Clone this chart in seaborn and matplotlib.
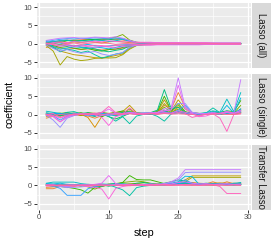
import numpy as np
import pandas as pd
import matplotlib
matplotlib.use("Agg")
import matplotlib.pyplot as plt
from matplotlib.patches import Rectangle
import seaborn as sns

steps = list(range(1, 30))
panels = ["Lasso (all)", "Lasso (single)", "Transfer Lasso"]
variables = ["x%d" % i for i in range(1, 21)]

# Lasso (all)
a1 = [0.3, 0.5, 0.8, 1.0, 0.9, 1.1, 1.2, 1.0, 1.1, 1.3, 1.2, 1.0, 0.6, 0.4, 0.3, 0.3, 0.2, 0.2, 0.2, 0.2, 0.2, 0.2, 0.1, 0.1, 0.1, 0.1, 0.1, 0.1, 0.1]
a2 = [-0.5, -0.8, -1.2, -1.5, -1.3, -1.6, -1.4, -1.5, -1.7, -1.6, -1.5, -1.2, -0.8, -0.5, -0.3, -0.3, -0.2, -0.2, -0.2, -0.2, -0.1, -0.1, -0.1, -0.1, -0.1, -0.1, -0.1, -0.1, -0.1]
a3 = [-1.0, -0.6, -0.3, 0.2, 0.5, 0.3, 0.6, 0.4, 0.2, 0.5, 0.7, 0.5, 0.3, 0.2, 0.1, 0.1, 0.1, 0.1, 0.0, 0.0, 0.0, 0.0, 0.0, 0.0, 0.0, 0.0, 0.0, 0.0, 0.0]
a4 = [-0.3, -1.0, -2.0, -2.5, -3.0, -3.2, -3.5, -3.8, -4.0, -3.6, -3.2, -2.8, -1.2, -0.4, -0.2, -0.2, -0.2, -0.1, -0.1, -0.1, -0.1, -0.1, -0.1, -0.1, -0.1, 0.0, 0.0, 0.0, 0.0]
a5 = [-0.5, -2.0, -5.8, -3.5, -4.2, -4.6, -4.4, -4.0, -3.8, -3.9, -3.8, -3.0, -1.5, -0.5, -0.3, -0.2, -0.2, -0.2, -0.1, -0.1, -0.1, -0.1, -0.1, -0.1, -0.1, -0.1, -0.1, -0.1, -0.1]
a6 = [0.2, 0.5, 0.3, 0.8, 1.0, 0.9, 1.1, 1.2, 1.3, 1.5, 1.8, 2.5, 1.0, 0.4, 0.2, 0.2, 0.1, 0.1, 0.1, 0.1, 0.1, 0.1, 0.1, 0.1, 0.1, 0.1, 0.1, 0.1, 0.1]
a7 = [-0.2, -0.5, -1.0, -0.8, -1.2, -1.5, -1.3, -1.8, -2.0, -1.6, -1.4, -1.0, -0.5, -0.2, -0.1, -0.1, -0.1, -0.1, -0.1, -0.1, -0.1, 0.0, 0.0, 0.0, 0.0, 0.0, 0.0, 0.0, 0.0]
a8 = [0.0, 0.3, 0.6, 0.9, 0.7, 0.8, 1.0, 1.2, 1.0, 1.1, 1.3, 1.4, 0.8, 0.3, 0.2, 0.2, 0.1, 0.1, 0.1, 0.1, 0.1, 0.1, 0.1, 0.1, 0.0, 0.0, 0.0, 0.0, 0.0]
a9 = [0.4, 0.2, -0.3, -0.6, -0.4, -0.9, -1.1, -1.4, -1.9, -2.2, -1.8, -1.5, -0.6, -0.2, -0.1, -0.1, -0.1, 0.0, 0.0, 0.0, 0.0, 0.0, 0.0, 0.0, 0.0, 0.0, 0.0, 0.0, 0.0]
a10 = [0.5, -1.0, -2.2, -1.5, -1.8, -2.4, -2.0, -3.0, -3.9, -3.4, -2.8, -2.5, -1.0, -0.3, -0.2, -0.2, -0.1, -0.1, -0.1, -0.1, -0.1, -0.1, -0.1, -0.1, -0.1, -0.1, -0.1, -0.1, -0.1]
a11 = [0.8, 0.5, 0.9, 1.0, 0.6, 0.8, 0.7, 1.0, 0.9, 0.6, 0.8, 1.2, 0.7, 0.3, 0.2, 0.2, 0.2, 0.1, 0.1, 0.1, 0.1, 0.1, 0.1, 0.1, 0.1, 0.1, 0.1, 0.1, 0.1]
a12 = [0.2, -0.8, -1.5, -1.2, -0.8, -1.0, -1.3, -0.9, -1.1, -1.4, -1.0, -0.6, -0.4, -0.1, -0.1, -0.1, 0.0, 0.0, 0.0, 0.0, 0.0, 0.0, 0.0, 0.0, 0.0, 0.0, 0.0, 0.0, 0.0]
a13 = [-0.2, 0.4, 0.2, -0.3, -0.6, -0.4, -0.2, -0.5, -0.8, -0.6, -0.4, -0.3, -0.2, -0.1, 0.0, 0.0, 0.0, 0.0, 0.0, 0.0, 0.0, 0.0, 0.0, 0.0, 0.0, 0.0, 0.0, 0.0, 0.0]
a14 = [0.6, 0.9, 1.2, 1.4, 1.3, 1.5, 1.4, 1.6, 1.5, 1.3, 1.6, 1.4, 0.8, 0.3, 0.2, 0.2, 0.1, 0.1, 0.1, 0.1, 0.1, 0.1, 0.1, 0.1, 0.1, 0.1, 0.1, 0.1, 0.1]
a15 = [-0.4, -1.3, -2.0, -1.6, -2.2, -2.6, -2.4, -2.1, -2.8, -3.2, -2.9, -2.4, -1.0, -0.4, -0.2, -0.2, -0.2, -0.1, -0.1, -0.1, -0.1, -0.1, -0.1, -0.1, -0.1, -0.1, -0.1, -0.1, -0.1]
a16 = [0.9, 1.2, 1.5, 1.6, 1.7, 1.5, 1.6, 1.8, 1.7, 1.6, 1.9, 1.5, 0.9, 0.4, 0.3, 0.3, 0.2, 0.2, 0.2, 0.2, 0.2, 0.2, 0.2, 0.2, 0.2, 0.2, 0.2, 0.2, 0.2]
a17 = [0.1, -0.3, -0.7, -0.5, -0.9, -0.6, -0.8, -1.0, -0.7, -0.9, -1.2, -0.8, -0.6, -0.4, -0.4, -0.4, -0.3, -0.3, -0.3, -0.3, -0.3, -0.3, -0.3, -0.2, -0.2, -0.2, -0.2, -0.2, -0.2]
a18 = [-0.1, 0.3, 0.5, 0.3, 0.6, 0.4, 0.5, 0.7, 0.5, 0.8, 0.6, 0.5, 0.5, 0.4, 0.4, 0.4, 0.3, 0.3, 0.3, 0.3, 0.3, 0.3, 0.3, 0.3, 0.2, 0.2, 0.2, 0.2, 0.2]
a19 = [0.0, -0.2, -0.4, -0.2, -0.5, -0.3, -0.6, -0.4, -0.5, -0.7, -0.5, -0.4, -0.3, -0.2, -0.2, -0.2, -0.2, -0.2, -0.1, -0.1, -0.1, -0.1, -0.1, -0.1, -0.1, -0.1, -0.1, -0.1, -0.1]
a20 = [0.2, 0.1, 0.3, 0.0, 0.2, -0.1, 0.1, 0.3, 0.2, 0.1, -0.2, 0.0, 0.1, 0.2, 0.2, 0.1, 0.1, 0.1, 0.1, 0.1, 0.1, 0.1, 0.1, 0.1, 0.1, 0.0, 0.0, 0.0, 0.0]

# Lasso (single)
s1 = [0.0, -0.2, 0.1, 0.3, 0.0, -0.3, 0.2, 0.4, 0.1, -0.2, 0.3, 0.1, 0.5, 0.2, 0.1, 0.3, 0.2, 0.8, 0.4, 0.6, 0.3, 0.1, 0.2, 0.0, 0.3, 0.1, 0.2, 0.0, 0.4]
s2 = [-1.0, -0.5, -0.3, 0.1, 0.0, -0.2, -0.4, -1.0, -0.3, 0.1, 0.2, 0.0, 0.4, 0.3, 0.2, 0.5, 0.8, 2.5, 1.5, 6.0, 2.0, 0.6, 0.3, 0.1, 0.4, 0.2, 0.5, 0.3, 0.6]
s3 = [-0.6, -0.3, 0.2, 0.0, 0.3, 0.1, -0.8, -3.5, -0.5, 0.2, 0.4, 0.3, 1.0, 0.5, 0.2, 0.1, 0.3, 1.2, 0.4, 2.0, 0.6, 0.2, 0.1, 0.0, 0.2, 0.5, 0.3, 0.1, 1.0]
s4 = [-0.3, 0.0, -0.5, 0.2, 0.4, -0.3, 0.5, 0.3, -0.2, 0.3, 0.6, 0.8, 2.5, 0.5, 0.3, 0.2, 0.6, 4.0, 1.0, 4.0, 1.5, 0.4, 0.3, 0.2, 0.5, 0.3, 0.4, 0.2, 1.5]
s5 = [0.2, 0.3, -0.2, -0.5, 0.1, 0.3, 0.2, -0.4, 0.5, 0.1, -0.3, 0.2, 0.4, 0.2, 0.1, 0.3, 0.2, 3.0, 0.8, 2.5, 0.5, 0.2, 0.1, 0.3, 0.2, 0.1, 0.3, 0.2, 0.5]
s6 = [0.0, 0.2, 0.4, -0.2, 0.3, 0.5, 0.0, 0.2, 0.6, 0.3, 0.1, 0.4, 1.5, 0.3, 0.2, 0.1, 0.4, 2.0, 0.5, 1.5, 0.4, 0.2, 0.3, 0.1, 0.6, 0.2, 0.3, 0.4, 2.5]
s7 = [0.1, -0.4, 0.3, 0.5, 0.2, -0.1, 0.4, 0.0, -0.6, 0.2, 0.5, 1.0, 0.5, 0.2, 0.3, 0.4, 0.8, 5.0, 1.0, 3.0, 0.8, 0.3, 0.2, 0.4, 0.3, 0.6, 1.0, 0.8, 3.8]
s8 = [-0.2, 0.1, -0.3, 0.3, 0.0, 0.4, -0.2, -0.5, 0.2, -0.6, -1.2, -0.5, 0.3, 0.2, 0.1, 0.2, 0.3, 1.0, 0.3, 0.8, 0.2, 0.1, 0.0, 0.2, 0.4, 0.1, 0.3, 0.5, 1.0]
s9 = [0.3, 0.0, 0.2, 0.4, 0.1, 0.3, 0.5, 0.2, 0.0, 0.3, 0.2, 0.6, 0.8, 0.3, 0.4, 0.5, 1.2, 6.8, 1.5, 2.0, 0.6, 0.3, 0.2, 0.1, 0.8, 0.4, 0.6, 0.3, 1.5]
s10 = [0.5, 0.2, -0.2, 0.6, 0.8, 0.2, 0.0, -0.3, 0.3, -0.5, -1.8, -0.6, -2.5, -0.4, 0.0, 0.2, -0.5, -1.8, 0.2, 0.5, 0.3, 0.1, 0.2, 0.4, 1.8, 0.5, 0.8, 0.2, 0.6]
s11 = [0.9, 0.6, 0.3, 0.1, 0.4, 0.2, 0.1, 0.3, -0.2, 0.1, 0.3, 0.2, 0.5, 0.3, 0.2, 0.4, 0.3, 0.8, 0.5, 1.0, 0.6, 0.4, 0.3, 0.5, 1.0, 0.6, 4.2, 0.8, 6.0]
s12 = [0.2, 0.4, 0.0, -0.2, 0.3, 0.1, -0.3, 0.2, 0.4, 0.0, -0.4, 0.2, 0.6, 0.4, 0.3, 0.2, 0.1, 0.5, 0.3, 0.8, 0.4, 0.2, 0.3, 0.1, 0.5, 0.2, 2.5, 0.4, 4.5]
s13 = [-0.3, 0.1, 0.3, 0.0, -0.2, 0.2, 0.0, -0.4, 0.1, 0.3, 0.1, -0.2, 0.3, 0.1, 0.0, 0.2, 0.3, 0.4, 0.2, 0.5, 0.3, 0.1, 0.0, 0.2, 0.3, 0.1, 1.0, 0.2, 1.5]
s14 = [0.1, -0.3, -1.5, -0.5, 0.0, 0.2, -0.3, 0.1, 0.2, -0.1, 0.0, 0.3, 0.4, 0.2, 0.1, 0.3, 0.2, 0.6, 0.3, 1.2, 2.5, 0.5, 0.2, 0.0, 0.3, 0.1, 0.4, 0.2, 0.8]
s15 = [-0.2, -1.5, -3.5, -1.0, -0.3, 0.1, -0.2, 0.0, 0.1, -0.3, 0.2, 0.0, 0.3, 0.2, 0.5, 0.4, 0.6, 1.0, 1.5, 3.0, 3.0, 0.6, 0.3, 0.2, 0.4, 0.2, 0.5, 0.3, 1.0]
s16 = [0.0, -0.5, -2.0, -0.8, -0.2, 0.1, 0.0, 0.2, -0.3, 0.1, 0.3, 0.2, 0.6, 0.4, 0.3, 0.5, 0.6, 1.5, 2.0, 10.0, 2.0, 0.5, 0.2, 0.3, 0.6, 0.2, 0.8, 0.4, 9.5]
s17 = [0.1, -0.3, -1.0, -0.4, 0.0, 0.2, -0.1, 0.3, 0.5, 1.5, 0.4, 0.2, 0.5, 0.3, 0.2, 0.4, 0.5, 1.0, 1.2, 8.0, 1.5, 0.3, -0.5, 0.1, 0.3, 0.2, 0.6, 0.3, 1.2]
s18 = [-0.1, -0.6, -2.0, -0.6, 0.1, 0.0, 0.2, -0.1, -0.8, -3.0, -0.6, 0.0, 0.3, 0.1, 0.2, 0.3, 0.2, 0.5, 0.4, 1.0, 0.6, 0.2, -0.6, -0.4, 0.2, 0.4, 0.8, 0.3, 0.7]
s19 = [0.0, 0.3, -0.8, -0.2, 0.2, 0.1, 0.3, 0.0, 0.6, 2.2, 0.5, 0.2, 1.8, 0.3, 0.1, 0.2, 0.3, 0.4, 0.2, 0.6, 0.3, -0.8, -0.3, 0.1, 0.2, -1.0, -4.6, 0.0, 0.2]
s20 = [0.1, -0.2, 0.0, 0.2, -0.1, 0.1, 0.0, 0.2, -0.1, 0.3, 0.0, 0.1, 0.2, 0.0, 0.1, 0.2, 0.0, 0.3, 0.1, 0.2, 0.1, 0.0, -0.2, 0.0, 0.1, 0.2, 0.0, 0.1, 0.2]

# Transfer Lasso
t1 = [0.2, 0.1, 0.0, 0.3, 0.2, 0.1, 0.2, 0.0, 0.3, 0.1, 0.2, 0.3, 0.1, 0.2, 0.1, 0.2, 0.1, 0.3, 0.2, 0.1, 0.2, 0.1, 0.2, 0.3, 0.5, 0.2, 0.1, 0.2, 0.1]
t2 = [-0.9, -0.9, -0.3, -0.2, 0.0, -0.1, 0.1, 0.0, 0.2, 0.1, 0.3, 0.2, 0.1, 0.2, 0.1, 0.3, 0.2, 0.4, 0.3, 0.5, 0.4, 0.3, 0.2, 0.4, 1.0, 0.3, 1.0, 0.4, 0.4]
t3 = [-0.5, -0.4, -0.2, 0.0, 0.1, -0.2, 0.0, 0.2, 0.1, -0.1, 0.2, 0.3, 0.4, 0.3, 0.2, 0.1, 0.3, 0.2, 0.1, 0.4, 0.6, 0.8, 0.6, 0.5, 0.6, 0.7, 0.6, 0.6, 0.6]
t4 = [0.0, 0.1, -0.2, 0.2, 0.1, 0.0, 0.3, 0.2, 0.0, 0.4, 0.3, 0.2, 0.4, 0.5, 0.3, 0.2, 0.4, 0.3, 0.5, 0.8, 1.5, 2.6, 2.6, 2.6, 2.6, 2.6, 2.6, 2.6, 2.6]
t5 = [0.1, 0.0, 0.2, -0.1, 0.0, 0.2, 0.1, -0.3, 0.2, 0.0, 0.1, 0.3, 0.2, 0.4, 0.3, 0.2, 0.1, 0.3, 0.4, 0.6, 1.0, 2.2, 2.2, 2.2, 2.2, 2.2, 2.2, 2.2, 2.2]
t6 = [0.0, 0.2, 0.1, 0.0, -0.2, 0.1, -0.4, -1.0, -0.3, 0.2, 0.5, 0.8, 1.0, 1.2, 1.0, 0.6, 0.3, 0.2, 0.1, 0.3, 0.2, 0.1, 0.3, 0.2, 0.1, 0.2, 0.3, 0.1, 0.2]
t7 = [0.2, 0.0, -0.3, -0.5, -0.8, -1.2, -2.1, -0.5, -0.2, 0.1, 0.3, 0.8, 2.7, 1.6, 1.5, 1.5, 1.0, 0.5, 0.3, 0.4, 0.3, 0.2, 0.3, 0.2, 0.1, 0.2, 0.3, 0.2, 0.2]
t8 = [0.1, -0.2, 0.0, 0.2, 0.1, -0.1, 0.2, 0.0, -0.2, 0.3, 0.5, 0.4, 0.2, 0.6, 0.8, 0.5, 0.3, 0.6, 1.0, 1.5, 1.2, 0.5, 0.4, 0.6, 0.5, 0.4, 0.5, 0.4, 0.5]
t9 = [0.3, 0.2, 0.1, 0.0, 0.2, 0.1, 0.0, 0.2, 0.1, -0.2, 0.0, 0.2, 0.1, 0.3, 0.2, 0.1, 0.2, 0.0, 0.2, 0.4, 0.6, 0.3, 0.2, 0.1, 0.3, 0.2, 0.1, 0.2, 0.3]
t10 = [0.4, 0.3, 0.2, 0.1, 0.0, 0.2, 0.1, -0.2, 0.0, 0.2, -0.5, -1.2, -2.8, -0.6, -0.2, 0.0, 0.1, 0.2, 0.3, 0.2, 0.4, 0.3, 0.2, 0.5, 0.3, 0.2, 0.4, 0.3, 0.8]
t11 = [0.6, 0.9, 0.9, 0.9, 0.9, 0.5, 0.3, 0.2, 0.4, 0.3, 0.5, 0.4, 0.3, 0.2, 0.3, 0.4, 0.2, 0.3, 0.5, 0.6, 0.8, 0.5, 0.3, 0.4, 0.5, 0.4, 0.3, 0.6, 0.7]
t12 = [0.5, 0.4, 0.6, 0.3, 0.2, 0.1, 0.0, 0.2, 0.1, 0.0, 0.2, 0.1, 0.3, 0.2, 0.1, 0.2, 0.3, 0.4, 0.6, 1.0, 2.5, 2.4, 0.3, 0.2, 0.3, 0.4, 0.2, 0.3, 0.2]
t13 = [0.0, 0.2, 0.1, -0.2, 0.0, 0.1, 0.2, 0.0, -0.1, 0.1, 0.0, 0.2, 0.1, 0.0, 0.2, 0.1, 0.0, 0.2, 0.3, 0.5, 0.8, 0.6, 0.4, 0.3, 0.2, 0.3, 0.2, 0.1, 0.2]
t14 = [0.0, -0.2, -0.8, -2.7, -2.7, -2.7, -0.9, -0.3, 0.0, 0.1, 0.0, 0.2, 0.1, 0.0, 0.2, 0.1, 0.3, 0.2, 0.4, 0.8, 1.5, 0.6, 0.4, 0.3, 0.2, 0.3, 0.2, 0.3, 0.3]
t15 = [0.1, 0.0, -0.3, -0.6, -0.5, -0.4, -0.2, 0.0, 0.1, 0.0, 0.2, 0.1, 0.3, 0.2, 0.1, 0.3, 0.2, 0.4, 0.8, 1.5, 3.5, 3.6, 3.6, 3.6, 3.6, 3.6, 3.6, 3.6, 3.6]
t16 = [0.0, 0.1, -0.2, -0.3, -0.1, 0.0, 0.1, 0.2, 0.0, 0.1, 0.2, 0.0, 0.2, 0.3, 0.2, 0.4, 0.3, 0.5, 1.0, 2.0, 4.3, 4.3, 4.3, 4.3, 4.3, 4.3, 4.3, 4.3, 4.3]
t17 = [0.2, 0.0, -0.1, 0.1, 0.0, 0.2, 0.1, 0.3, 0.6, 2.7, 0.5, 0.2, 0.1, 0.3, 0.2, 0.1, 0.3, 0.2, 0.4, 0.8, 1.0, 0.6, 0.4, 0.5, 0.3, 0.4, 0.5, 0.3, 0.4]
t18 = [-0.2, -0.1, 0.1, 0.0, -0.2, 0.0, -0.3, -0.5, -1.0, -3.7, -0.8, -0.3, 0.0, 0.2, 0.1, 0.0, 0.2, 0.1, 0.0, 0.2, 0.3, 0.2, 0.1, 0.2, 0.3, 0.2, 0.1, 0.2, 0.1]
t19 = [0.1, 0.2, 0.0, 0.1, 0.2, 0.0, 0.1, 0.0, 0.2, 0.1, 0.0, 0.1, 0.2, 0.1, 0.0, 0.2, 0.1, 0.3, 0.2, 0.1, 0.2, 0.1, 0.0, 0.1, 0.2, -0.3, -2.2, -2.2, -2.2]
t20 = [0.0, -0.1, 0.1, 0.0, -0.2, 0.1, 0.0, 0.1, -0.1, 0.0, 0.1, 0.0, -0.1, 0.1, 0.0, 0.1, 0.0, 0.1, 0.0, 0.1, 0.0, 0.1, 0.0, 0.1, 0.0, 0.1, 0.0, 0.1, 0.0]

lines_all = [a1, a2, a3, a4, a5, a6, a7, a8, a9, a10, a11, a12, a13, a14, a15, a16, a17, a18, a19, a20]
lines_single = [s1, s2, s3, s4, s5, s6, s7, s8, s9, s10, s11, s12, s13, s14, s15, s16, s17, s18, s19, s20]
lines_transfer = [t1, t2, t3, t4, t5, t6, t7, t8, t9, t10, t11, t12, t13, t14, t15, t16, t17, t18, t19, t20]

rows = []
for panel, lines in zip(panels, [lines_all, lines_single, lines_transfer]):
    for var, vals in zip(variables, lines):
        for st, v in zip(steps, vals):
            rows.append((panel, var, st, v))
df = pd.DataFrame(rows, columns=["method", "variable", "step", "coefficient"])


def gg_hue(n, l=65, c=100):
    # ggplot2 default hue palette (polar LUV -> sRGB)
    h = np.deg2rad(np.linspace(15, 375, n + 1)[:-1])
    u, v = c * np.cos(h), c * np.sin(h)
    Xn, Yn, Zn = 95.047, 100.0, 108.883
    un = 4 * Xn / (Xn + 15 * Yn + 3 * Zn)
    vn = 9 * Yn / (Xn + 15 * Yn + 3 * Zn)
    Y = Yn * ((l + 16) / 116) ** 3
    up = u / (13 * l) + un
    vp = v / (13 * l) + vn
    X = Y * 9 * up / (4 * vp)
    Z = Y * (12 - 3 * up - 20 * vp) / (4 * vp)
    xyz = np.stack([X, np.full_like(X, Y), Z], axis=1) / 100
    m = np.array([[3.2404542, -1.5371385, -0.4985314],
                  [-0.9692660, 1.8760108, 0.0415560],
                  [0.0556434, -0.2040259, 1.0572252]])
    rgb = xyz @ m.T
    rgb = np.where(rgb <= 0.0031308, 12.92 * rgb, 1.055 * np.clip(rgb, 0, None) ** (1 / 2.4) - 0.055)
    return [tuple(c) for c in np.clip(rgb, 0, 1)]


pal = dict(zip(variables, gg_hue(len(variables))))

sns.set_theme(style="darkgrid")
plt.rcParams["font.family"] = ["Liberation Sans", "DejaVu Sans"]

W, H = 277, 245
fig = plt.figure(figsize=(W / 100, H / 100), dpi=100)

left, right = 36.5, 250.5
tops = [3, 73.8, 144.7]
ph = 65.3

for i, (panel, top) in enumerate(zip(panels, tops)):
    ax = fig.add_axes([left / W, 1 - (top + ph) / H, (right - left) / W, ph / H])
    ax.set_facecolor("#EBEBEB")
    sns.lineplot(data=df[df["method"] == panel], x="step", y="coefficient",
                 hue="variable", hue_order=variables, palette=pal,
                 estimator=None, legend=False, lw=0.65, ax=ax)
    ax.set_xlim(-0.4, 30.4)
    ax.set_ylim(-6.7, 11.1)
    ax.set_xticks([0, 10, 20, 30])
    ax.set_yticks([-5, 0, 5, 10])
    ax.set_xticks([5, 15, 25], minor=True)
    ax.set_yticks([-2.5, 2.5, 7.5], minor=True)
    ax.grid(which="major", color="white", lw=0.9)
    ax.grid(which="minor", color="white", lw=0.45)
    ax.set_axisbelow(True)
    for s in ax.spines.values():
        s.set_visible(False)
    ax.set_xlabel("")
    ax.set_ylabel("")
    ax.tick_params(axis="y", which="major", left=True, length=2, width=0.7, color="#333333",
                   labelsize=5.6, labelcolor="#4D4D4D", pad=1)
    ax.tick_params(which="minor", length=0)
    if i == 2:
        ax.tick_params(axis="x", which="major", bottom=True, length=2, width=0.7, color="#333333",
                       labelsize=5.6, labelcolor="#4D4D4D", pad=1)
    else:
        ax.tick_params(axis="x", which="major", length=0, labelbottom=False)
    # facet strip
    fig.add_artist(Rectangle(((right + 1.5) / W, 1 - (top + ph) / H), 19 / W, ph / H,
                             transform=fig.transFigure, facecolor="#D9D9D9", edgecolor="none"))
    fig.text((right + 11) / W, 1 - (top + ph / 2) / H, panel, rotation=-90,
             ha="center", va="center", fontsize=6.9, color="#1A1A1A")

fig.text(10 / W, 1 - 104 / H, "coefficient", rotation=90, ha="center", va="center",
         fontsize=7.6, color="black")
fig.text(144 / W, 1 - 232.5 / H, "step", ha="center", va="center", fontsize=7.8, color="black")

fig.savefig("out.png", dpi=100, facecolor="white")
